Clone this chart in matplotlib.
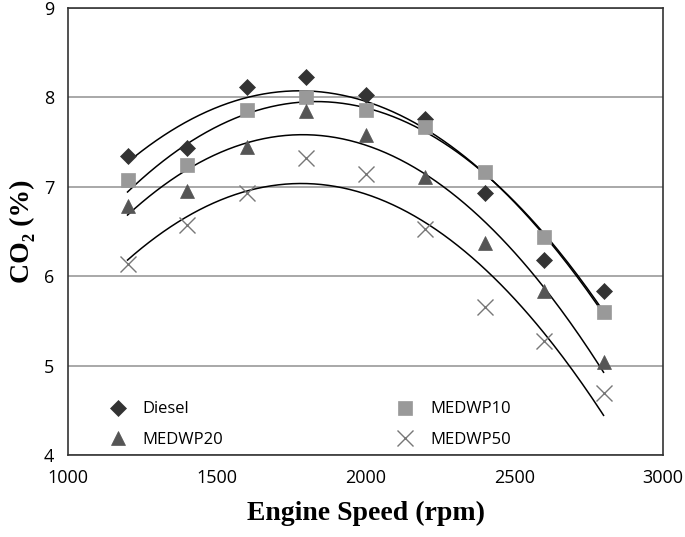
import numpy as np
import matplotlib
matplotlib.use("Agg")
import matplotlib.pyplot as plt

# Engine speed (rpm) and CO2 (%)
speed = [1200, 1400, 1600, 1800, 2000, 2200, 2400, 2600, 2800]
diesel = [7.35, 7.44, 8.12, 8.23, 8.03, 7.76, 6.93, 6.18, 5.83]
medwp10 = [7.08, 7.24, 7.86, 8.00, 7.86, 7.67, 7.17, 6.44, 5.60]
medwp20 = [6.78, 6.95, 7.45, 7.85, 7.58, 7.11, 6.37, 5.84, 5.04]
medwp50 = [6.14, 6.57, 6.93, 7.32, 7.14, 6.53, 5.66, 5.27, 4.69]

SERIES = [
    ("Diesel", diesel, {"marker": "D", "color": "#333333", "ms": 8}),
    ("MEDWP10", medwp10, {"marker": "s", "color": "#999999", "ms": 10}),
    ("MEDWP20", medwp20, {"marker": "^", "color": "#555555", "ms": 10}),
    ("MEDWP50", medwp50, {"marker": "x", "color": "#777777", "ms": 11, "mew": 1.0}),
]

plt.rcParams["font.family"] = ["Open Sans", "DejaVu Sans"]

fig = plt.figure(figsize=(6.85, 5.37), dpi=100)
ax = fig.add_axes([0.0993, 0.1527, 0.8687, 0.8323])

x = np.array(speed, dtype=float)
xs = np.linspace(x.min(), x.max(), 200)
handles = {}
for name, vals, st in SERIES:
    # 2nd-order polynomial trend line, as in the source chart
    coef = np.polyfit(x, vals, 2)
    ax.plot(xs, np.polyval(coef, xs), color="black", lw=1.1, zorder=2)
    h, = ax.plot(x, vals, linestyle="none", marker=st["marker"], color=st["color"],
                 markersize=st["ms"], markeredgewidth=st.get("mew", 0.5), zorder=3,
                 label=name)
    handles[name] = h

ax.set_xlim(1000, 3000)
ax.set_ylim(4, 9)
ax.set_xticks([1000, 1500, 2000, 2500, 3000])
ax.set_yticks([4, 5, 6, 7, 8, 9])
ax.tick_params(axis="both", length=0, labelsize=13, pad=10)
ax.grid(True, axis="y", color="#999999", lw=1.2)
ax.set_axisbelow(True)
for sp in ax.spines.values():
    sp.set_color("#333333")
    sp.set_linewidth(1.2)

ax.set_xlabel("Engine Speed (rpm)", fontsize=20, fontweight="bold",
              family="Liberation Serif", labelpad=10)
ax.set_ylabel("CO\u2082 (%)", fontsize=20, fontweight="bold",
              family="Liberation Serif", labelpad=6)

leg = ax.legend([handles["Diesel"], handles["MEDWP20"], handles["MEDWP10"], handles["MEDWP50"]],
                ["Diesel", "MEDWP20", "MEDWP10", "MEDWP50"],
                ncol=2, loc="lower left", bbox_to_anchor=(0.03, -0.017), frameon=False,
                fontsize=12, columnspacing=9.9, handletextpad=0.5, labelspacing=0.85)

fig.savefig("out.png", dpi=100)
